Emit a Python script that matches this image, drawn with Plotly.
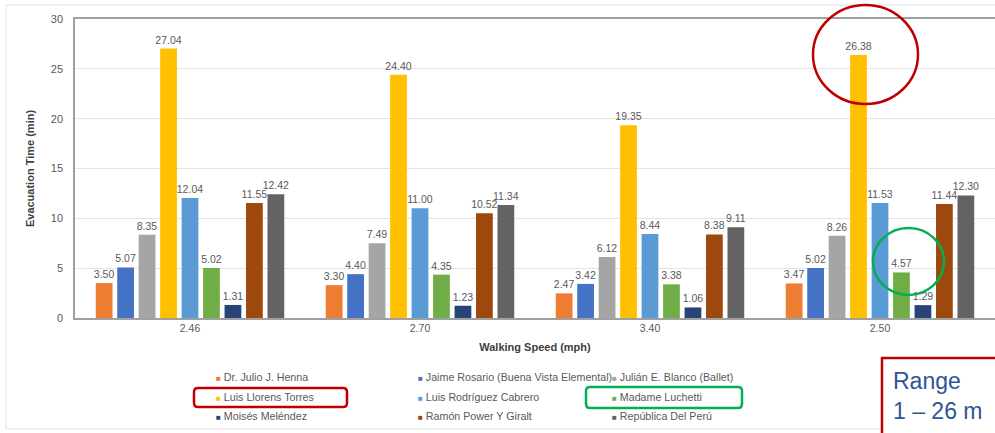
import plotly.graph_objects as go

# Walking speeds (x categories) and evacuation times per school (minutes)
speeds = ["2.46", "2.70", "3.40", "2.50"]

schools = [
    "Dr. Julio J. Henna",
    "Jaime Rosario (Buena Vista Elemental)",
    "Julián E. Blanco (Ballet)",
    "Luis Llorens Torres",
    "Luis Rodríguez Cabrero",
    "Madame Luchetti",
    "Moisés Meléndez",
    "Ramón Power Y Giralt",
    "República Del Perú",
]

henna = [3.50, 3.30, 2.47, 3.47]
rosario = [5.07, 4.40, 3.42, 5.02]
blanco = [8.35, 7.49, 6.12, 8.26]
llorens = [27.04, 24.40, 19.35, 26.38]
rodriguez = [12.04, 11.00, 8.44, 11.53]
luchetti = [5.02, 4.35, 3.38, 4.57]
melendez = [1.31, 1.23, 1.06, 1.29]
power = [11.55, 10.52, 8.38, 11.44]
peru = [12.42, 11.34, 9.11, 12.30]

series = [henna, rosario, blanco, llorens, rodriguez, luchetti, melendez, power, peru]

colors = ["#ED7D31", "#4472C4", "#A5A5A5", "#FFC000", "#5B9BD5",
          "#70AD47", "#264478", "#9E480E", "#636363"]

W, H = 995, 433
L, T, B = 75, 19, 318          # plot area edges in pixels
R = 995


def fx(x):
    return (x - L) / (R - L)


def fy(y):
    return (B - y) / (B - T)


fig = go.Figure()
for name, vals, col in zip(schools, series, colors):
    fig.add_trace(go.Bar(
        x=speeds, y=vals, name=name,
        marker=dict(color=col, line=dict(width=0)),
        texttemplate="%{y:.2f}", textposition="outside",
        textfont=dict(size=10.5, color="#595959"),
        constraintext="none",
        cliponaxis=False, showlegend=False,
    ))

TXT = "#595959"

fig.update_layout(
    width=W, height=H,
    margin=dict(l=L, r=W - R, t=T, b=H - B),
    paper_bgcolor="white", plot_bgcolor="white",
    barmode="group", bargap=0.16, bargroupgap=0.22,
    font=dict(family="Liberation Sans, Arial, sans-serif", size=10, color=TXT),
)

fig.update_xaxes(
    type="category", showgrid=False, ticks="",
    showline=True, linecolor="#A0A0A0", linewidth=1.5, mirror=True,
    tickfont=dict(size=10.5, color=TXT),
    title=dict(text="<b>Walking Speed (mph)</b>", standoff=10,
               font=dict(size=11, color="#404040")),
)
fig.update_yaxes(
    range=[0, 30], dtick=5, showgrid=True, gridcolor="#E3E3E3", gridwidth=1,
    showline=True, linecolor="#A0A0A0", linewidth=1.5, zeroline=False,
    ticks="", tickfont=dict(size=11, color=TXT), ticklabelstandoff=8,
    title=dict(text="<b>Evacuation Time (min)</b>", standoff=14,
               font=dict(size=11, color="#404040")),
)

shapes = []
annotations = []

# outer chart frame
shapes.append(dict(type="rect", xref="paper", yref="paper",
                   x0=fx(6), x1=fx(1010), y0=fy(5), y1=fy(429),
                   line=dict(color="#E2E2E2", width=1), layer="below"))

# legend, three columns
col_x = [214, 416, 610]
row_y = [377, 397, 416]
for i, (name, col) in enumerate(zip(schools, colors)):
    r, c = divmod(i, 3)
    annotations.append(dict(
        xref="paper", yref="paper", x=fx(col_x[c]), y=fy(row_y[r]),
        xanchor="left", yanchor="middle", showarrow=False,
        text=f"<span style='color:{col};font-size:8px'>■</span> {name}",
        font=dict(size=10.7, color=TXT),
    ))


def rounded_rect(x0, y0, x1, y1, rad):
    ax0, ax1 = fx(x0), fx(x1)
    ay0, ay1 = fy(y0), fy(y1)
    rx = rad / (R - L)
    ry = rad / (B - T)
    return (f"M {ax0 + rx},{ay0} L {ax1 - rx},{ay0} Q {ax1},{ay0} {ax1},{ay0 - ry} "
            f"L {ax1},{ay1 + ry} Q {ax1},{ay1} {ax1 - rx},{ay1} "
            f"L {ax0 + rx},{ay1} Q {ax0},{ay1} {ax0},{ay1 + ry} "
            f"L {ax0},{ay0 - ry} Q {ax0},{ay0} {ax0 + rx},{ay0} Z")


# highlight boxes around legend entries
shapes.append(dict(type="path", xref="paper", yref="paper",
                   path=rounded_rect(194, 388, 347, 407, 4),
                   line=dict(color="#C00000", width=2.5)))
shapes.append(dict(type="path", xref="paper", yref="paper",
                   path=rounded_rect(586, 387, 742, 408, 4),
                   line=dict(color="#00B050", width=2.5)))

# highlight circles on the chart
shapes.append(dict(type="circle", xref="paper", yref="paper",
                   x0=fx(813), x1=fx(918), y0=fy(104), y1=fy(5),
                   line=dict(color="#C00000", width=2.5)))
shapes.append(dict(type="circle", xref="paper", yref="paper",
                   x0=fx(873), x1=fx(944), y0=fy(295), y1=fy(228),
                   line=dict(color="#00B050", width=2.5)))

# range call-out box
shapes.append(dict(type="rect", xref="paper", yref="paper",
                   x0=fx(882), x1=fx(1010), y0=fy(440), y1=fy(358),
                   line=dict(color="#C00000", width=2.5), fillcolor="white"))
annotations.append(dict(
    xref="paper", yref="paper", x=fx(891), y=fy(396),
    xanchor="left", yanchor="middle", showarrow=False, align="left",
    text="Range<br>1 – 26 m",
    font=dict(size=23, color="#2F5597", family="Liberation Sans, Arial, sans-serif"),
))

fig.update_layout(shapes=shapes, annotations=annotations)

fig.write_html("out.html")
